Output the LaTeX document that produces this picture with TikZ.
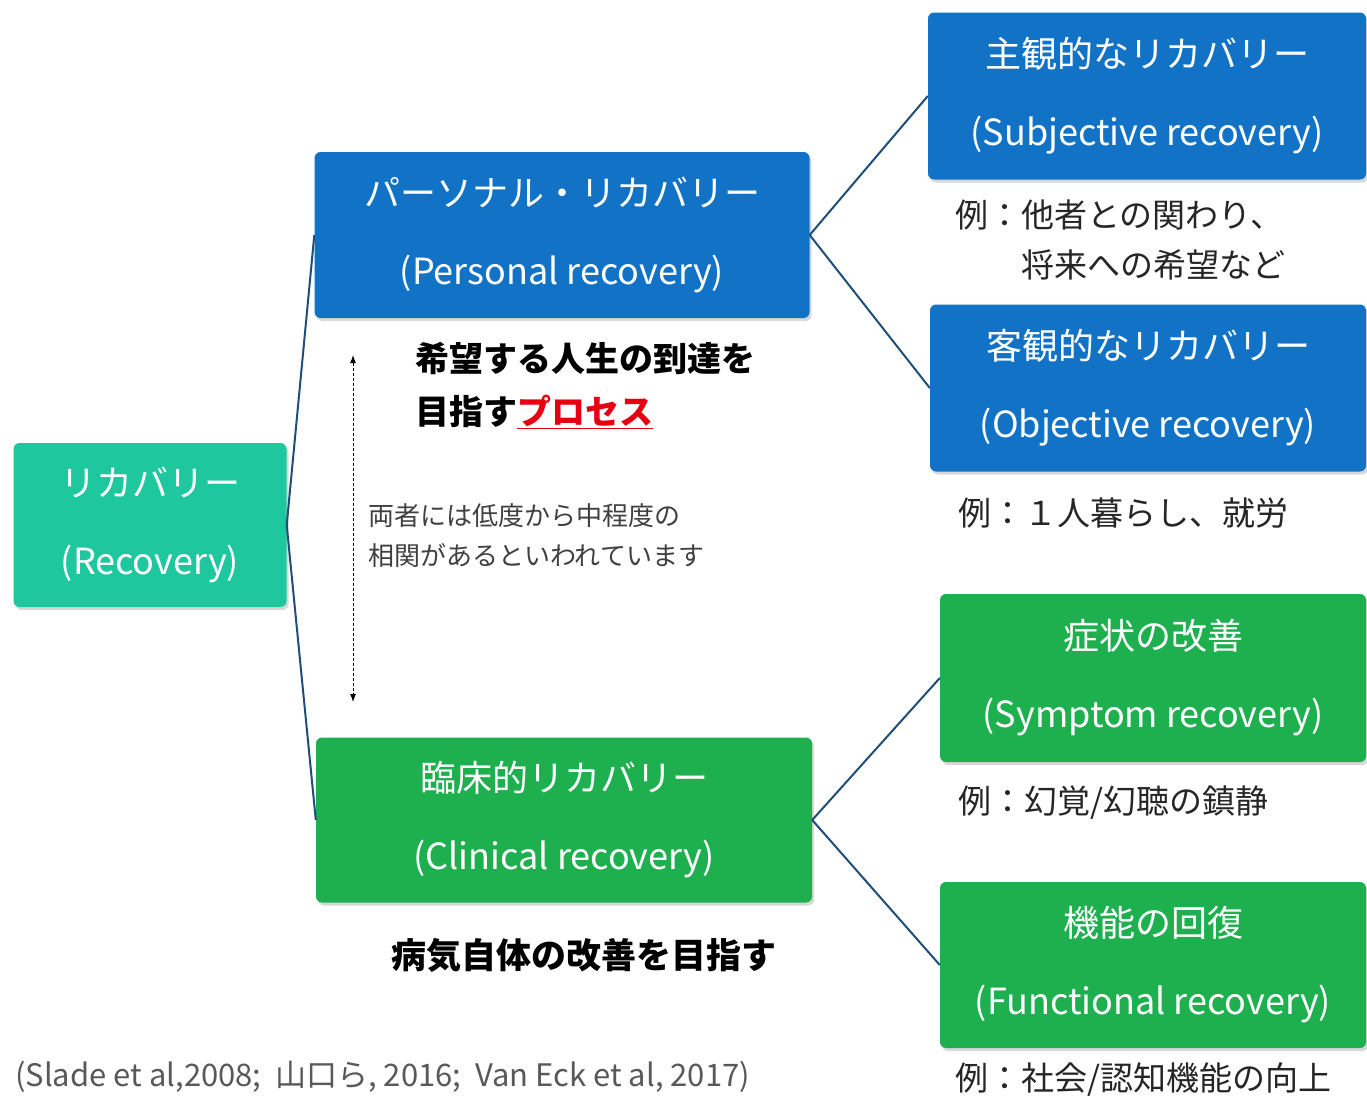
\documentclass[tikz,border=0pt]{standalone}
\usepackage{fontspec}
\setmainfont{Noto Sans CJK JP}
\usetikzlibrary{shadows,arrows.meta}
\definecolor{kaifukublue}{HTML}{1273C6}
\definecolor{kaifukuteal}{HTML}{1FC79E}
\definecolor{kaifukugreen}{HTML}{1EB04E}
\definecolor{senblue}{HTML}{1F4E79}
\definecolor{akaji}{HTML}{E60012}
\begin{document}
\begin{tikzpicture}
[x=1pt, y=-1pt,
 hako/.style={rounded corners=6pt, text=white, align=center, font=\fontsize{36}{78}\selectfont, drop shadow={opacity=0.3, shadow xshift=2pt, shadow yshift=-3pt}},
 rei/.style={anchor=west, align=left, inner sep=0pt, text=black!85, font=\fontsize{33}{50}\selectfont},
 sen/.style={senblue, line width=2pt}]
\path [use as bounding box, fill=white] (0,0) rectangle (1367,1100);
\node [hako, fill=kaifukuteal, minimum width=273pt, minimum height=164pt] (recovery) at (150,525) {リカバリー\\(Recovery)};
\node [hako, fill=kaifukublue, minimum width=495pt, minimum height=166pt] (personal) at (562,235) {パーソナル・リカバリー\\(Personal recovery)};
\node [hako, fill=kaifukublue, minimum width=438pt, minimum height=167pt] (subjective) at (1147,96) {主観的なリカバリー\\(Subjective recovery)};
\node [hako, fill=kaifukublue, minimum width=436pt, minimum height=167pt] (objective) at (1148,388) {客観的なリカバリー\\(Objective recovery)};
\node [hako, fill=kaifukugreen, minimum width=496pt, minimum height=165pt] (clinical) at (564,820) {臨床的リカバリー\\(Clinical recovery)};
\node [hako, fill=kaifukugreen, minimum width=426pt, minimum height=168pt] (symptom) at (1153,678) {症状の改善\\(Symptom recovery)};
\node [hako, fill=kaifukugreen, minimum width=426pt, minimum height=166pt] (functional) at (1153,965) {機能の回復\\(Functional recovery)};
\draw [sen] (recovery.east) -- (personal.west);
\draw [sen] (recovery.east) -- (clinical.west);
\draw [sen] (personal.east) -- (subjective.west);
\draw [sen] (personal.east) -- (objective.west);
\draw [sen] (clinical.east) -- (symptom.west);
\draw [sen] (clinical.east) -- (functional.west);
\node [rei] (rei1) at (955,240) {例：他者との関わり、\\\hphantom{例：}将来への希望など};
\node [rei] (rei2) at (958,513) {例：１人暮らし、就労};
\node [rei] (rei3) at (958,803) {例：幻覚/幻聴の鎮静};
\node [rei] (rei4) at (955,1080) {例：社会/認知機能の向上};
\node [anchor=west, align=left, inner sep=0pt, font=\fontsize{34}{53}\selectfont\bfseries] (katei) at (415,386) {希望する人生の到達を\\目指す\textcolor{akaji}{\underline{プロセス}}};
\node [inner sep=0pt, font=\fontsize{35}{40}\selectfont\bfseries] (byouki) at (584,955) {病気自体の改善を目指す};
\node [anchor=west, align=left, inner sep=0pt, text=black!75, font=\fontsize{26}{40}\selectfont] (soukan) at (368,536) {両者には低度から中程度の\\相関があるといわれています};
\coordinate (yaue) at (353,355);
\coordinate (yashita) at (353,702);
\draw [{Latex[length=8pt,width=6pt]}-{Latex[length=8pt,width=6pt]}, dash pattern=on 3pt off 2pt, line width=1pt] (yaue) -- (yashita);
\node [anchor=west, inner sep=0pt, text=black!65, font=\fontsize{31}{33}\selectfont] (shutten) at (15,1077) {(Slade et al,2008;\ \ 山口ら, 2016;\ \ Van Eck et al, 2017)};
\end{tikzpicture}
\end{document}
